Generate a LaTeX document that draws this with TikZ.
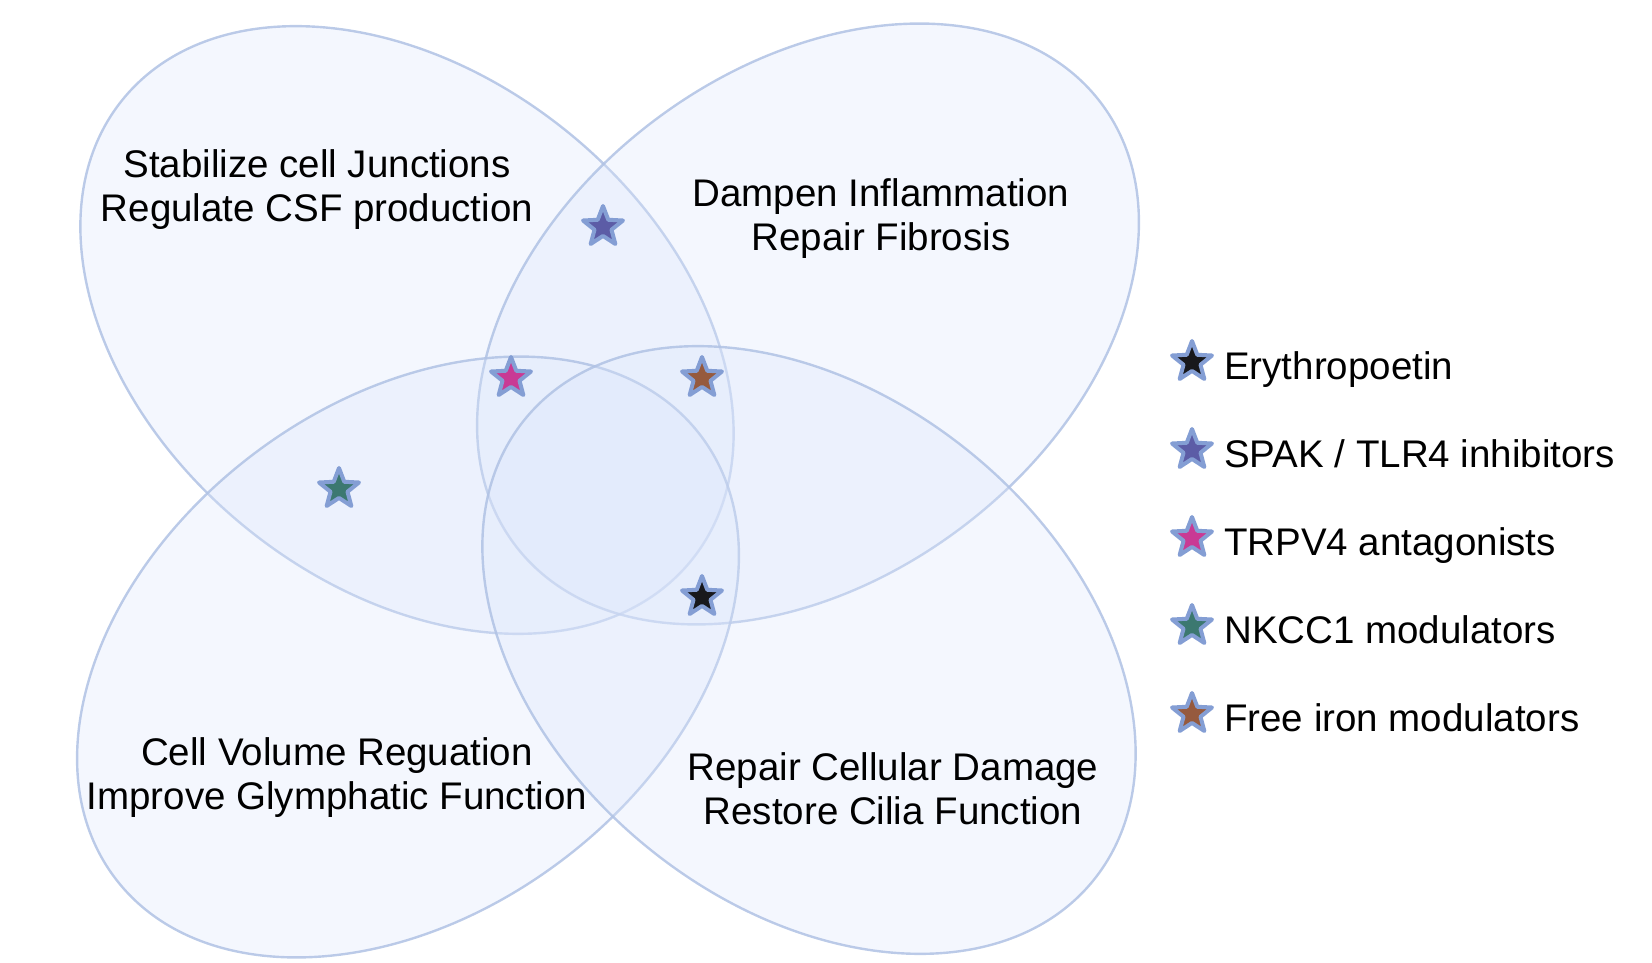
\documentclass[tikz,border=0pt]{standalone}
\usepackage{fontspec}
\setmainfont{Liberation Sans}
\usetikzlibrary{shapes.geometric}
\definecolor{setfill}{RGB}{220,230,251}
\definecolor{setline}{RGB}{176,194,228}
\definecolor{starrim}{RGB}{132,158,212}
\definecolor{epoblack}{RGB}{24,24,28}
\definecolor{spakpurple}{RGB}{92,92,166}
\definecolor{trpvpink}{RGB}{201,58,148}
\definecolor{nkccteal}{RGB}{60,120,112}
\definecolor{ironbrown}{RGB}{150,90,62}
\begin{document}
\begin{tikzpicture}[x=1pt,y=1pt]
\tikzset{
  venn/.style={draw=setline,line width=2.4pt,fill=setfill,fill opacity=0.32,draw opacity=0.85},
  setlabel/.style={align=center,inner sep=0pt,font=\fontsize{38.5}{44}\selectfont},
  drugstar/.style={star,star points=5,star point ratio=2.35,minimum size=42pt,inner sep=0pt,
    draw=starrim,line width=4pt,line join=round,fill=#1},
  legendtext/.style={anchor=base west,inner sep=0pt,font=\fontsize{38.5}{44}\selectfont}
}
\useasboundingbox (0,0) rectangle (1652,962);
% four overlapping sets
\draw[venn] (407,632) circle[x radius=366,y radius=255,rotate=-39];
\draw[venn] (808,638) circle[x radius=367,y radius=255,rotate=37];
\draw[venn] (408,305) circle[x radius=367,y radius=255,rotate=37];
\draw[venn] (809,312) circle[x radius=366,y radius=255,rotate=-39];
% set labels
\node[setlabel] (l_junction) at (317,772) {Stabilize cell Junctions\\Regulate CSF production};
\node[setlabel] (l_inflam) at (881,743) {Dampen Inflammation\\Repair Fibrosis};
\node[setlabel] (l_volume) at (337,184) {Cell Volume Reguation\\Improve Glymphatic Function};
\node[setlabel] (l_repair) at (893,173) {Repair Cellular Damage\\Restore Cilia Function};
% drugs in the sets
\node[drugstar=spakpurple] (s_spak) at (603,735) {};
\node[drugstar=trpvpink] (s_trpv) at (511,584) {};
\node[drugstar=ironbrown] (s_iron) at (702,584) {};
\node[drugstar=nkccteal] (s_nkcc) at (339,473) {};
\node[drugstar=epoblack] (s_epo) at (702,365) {};
% legend
\node[drugstar=epoblack] (k_epo) at (1192,600) {};
\node[drugstar=spakpurple] (k_spak) at (1192,512) {};
\node[drugstar=trpvpink] (k_trpv) at (1192,424) {};
\node[drugstar=nkccteal] (k_nkcc) at (1192,336) {};
\node[drugstar=ironbrown] (k_iron) at (1192,248) {};
\node[legendtext] (t_epo) at (1224,582) {Erythropoetin};
\node[legendtext] (t_spak) at (1224,494) {SPAK / TLR4 inhibitors};
\node[legendtext] (t_trpv) at (1224,406) {TRPV4 antagonists};
\node[legendtext] (t_nkcc) at (1224,318) {NKCC1 modulators};
\node[legendtext] (t_iron) at (1224,230) {Free iron modulators};
\end{tikzpicture}
\end{document}
